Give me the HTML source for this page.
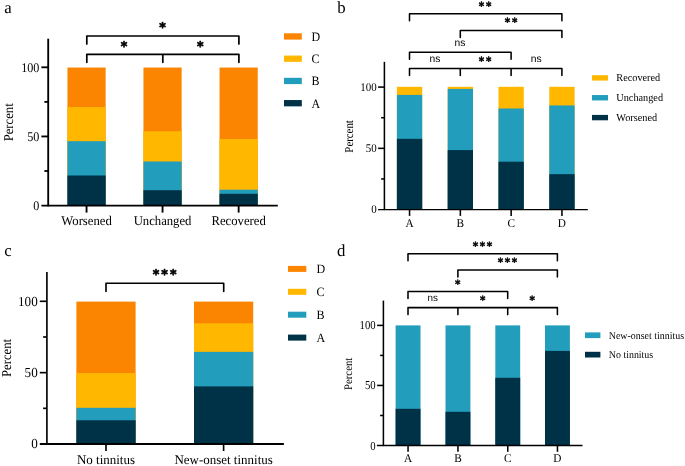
<!DOCTYPE html>
<html lang="en"><head><meta charset="utf-8"><title>Figure</title>
<style>
html,body{margin:0;padding:0;background:#fff}
svg{display:block}
text{text-rendering:geometricPrecision}
.s{font-family:"Liberation Serif","DejaVu Serif",serif;fill:#000;stroke:#000;stroke-width:0;paint-order:stroke}
.a{font-family:"Liberation Sans","DejaVu Sans",sans-serif;fill:#000}
.b{font-family:"DejaVu Sans","Liberation Sans",sans-serif;font-weight:bold;fill:#000;stroke:#000;stroke-linejoin:round}
</style></head><body>
<svg width="685" height="466" viewBox="0 0 685 466">
<defs><filter id="soft" x="0" y="0" width="685" height="466" filterUnits="userSpaceOnUse"><feGaussianBlur stdDeviation="0.45"/></filter><filter id="softt" x="0" y="0" width="685" height="466" filterUnits="userSpaceOnUse"><feGaussianBlur stdDeviation="0.3"/></filter></defs>
<rect width="685" height="466" fill="#fff"/>
<g filter="url(#soft)">
<rect x="67.45" y="67.55" width="38.2" height="138.05" fill="#FB8500"/>
<rect x="67.45" y="107.05" width="38.2" height="98.55" fill="#FFB703"/>
<rect x="67.45" y="141.2" width="38.2" height="64.4" fill="#219EBC"/>
<rect x="67.45" y="175.5" width="38.2" height="30.1" fill="#023047"/>
<rect x="143.45" y="67.55" width="38.2" height="138.05" fill="#FB8500"/>
<rect x="143.45" y="131.3" width="38.2" height="74.3" fill="#FFB703"/>
<rect x="143.45" y="161.5" width="38.2" height="44.1" fill="#219EBC"/>
<rect x="143.45" y="190.2" width="38.2" height="15.4" fill="#023047"/>
<rect x="219.55" y="67.55" width="38.2" height="138.05" fill="#FB8500"/>
<rect x="219.55" y="139" width="38.2" height="66.6" fill="#FFB703"/>
<rect x="219.55" y="189.7" width="38.2" height="15.9" fill="#219EBC"/>
<rect x="219.55" y="193.8" width="38.2" height="11.8" fill="#023047"/>
<line x1="48.2" y1="38.71" x2="48.2" y2="206.38" stroke="#000" stroke-width="1.85" stroke-linecap="butt"/>
<line x1="41.4" y1="205.6" x2="277.8" y2="205.6" stroke="#000" stroke-width="1.85" stroke-linecap="butt"/>
<line x1="44.4" y1="171.02" x2="48.2" y2="171.02" stroke="#000" stroke-width="1.85" stroke-linecap="butt"/>
<line x1="41.4" y1="136.45" x2="48.2" y2="136.45" stroke="#000" stroke-width="1.85" stroke-linecap="butt"/>
<line x1="44.4" y1="101.88" x2="48.2" y2="101.88" stroke="#000" stroke-width="1.85" stroke-linecap="butt"/>
<line x1="41.4" y1="67.3" x2="48.2" y2="67.3" stroke="#000" stroke-width="1.85" stroke-linecap="butt"/>
<line x1="86.55" y1="205.6" x2="86.55" y2="212.6" stroke="#000" stroke-width="1.85" stroke-linecap="butt"/>
<line x1="162.55" y1="205.6" x2="162.55" y2="212.6" stroke="#000" stroke-width="1.85" stroke-linecap="butt"/>
<line x1="238.65" y1="205.6" x2="238.65" y2="212.6" stroke="#000" stroke-width="1.85" stroke-linecap="butt"/>
<path d="M86.8 44V36H238.9V44" fill="none" stroke="#000" stroke-width="1.7" stroke-linecap="round" stroke-linejoin="round"/>
<path d="M86.8 62.3V54.3H238.9V62.3M162.8 54.3V62.3" fill="none" stroke="#000" stroke-width="1.7" stroke-linecap="round" stroke-linejoin="round"/>
<rect x="284" y="33.3" width="17.8" height="6.3" fill="#FB8500"/>
<rect x="284" y="55.55" width="17.8" height="6.3" fill="#FFB703"/>
<rect x="284" y="77.8" width="17.8" height="6.3" fill="#219EBC"/>
<rect x="284" y="100.05" width="17.8" height="6.3" fill="#023047"/>
<rect x="396.9" y="86.8" width="25.3" height="122.8" fill="#FFB703"/>
<rect x="396.9" y="94.93" width="25.3" height="114.67" fill="#219EBC"/>
<rect x="396.9" y="138.83" width="25.3" height="70.77" fill="#023047"/>
<rect x="447.7" y="86.8" width="25.3" height="122.8" fill="#FFB703"/>
<rect x="447.7" y="88.93" width="25.3" height="120.67" fill="#219EBC"/>
<rect x="447.7" y="150.08" width="25.3" height="59.52" fill="#023047"/>
<rect x="498.5" y="86.8" width="25.3" height="122.8" fill="#FFB703"/>
<rect x="498.5" y="108.5" width="25.3" height="101.1" fill="#219EBC"/>
<rect x="498.5" y="161.7" width="25.3" height="47.9" fill="#023047"/>
<rect x="549.3" y="86.8" width="25.3" height="122.8" fill="#FFB703"/>
<rect x="549.3" y="105.44" width="25.3" height="104.16" fill="#219EBC"/>
<rect x="549.3" y="174.18" width="25.3" height="35.42" fill="#023047"/>
<line x1="384.4" y1="61.82" x2="384.4" y2="210.12" stroke="#000" stroke-width="1.55" stroke-linecap="butt"/>
<line x1="378.1" y1="209.6" x2="587.8" y2="209.6" stroke="#000" stroke-width="1.35" stroke-linecap="butt"/>
<line x1="381.1" y1="178.97" x2="384.4" y2="178.97" stroke="#000" stroke-width="1.55" stroke-linecap="butt"/>
<line x1="378.1" y1="148.35" x2="384.4" y2="148.35" stroke="#000" stroke-width="1.55" stroke-linecap="butt"/>
<line x1="381.1" y1="117.72" x2="384.4" y2="117.72" stroke="#000" stroke-width="1.55" stroke-linecap="butt"/>
<line x1="378.1" y1="87.1" x2="384.4" y2="87.1" stroke="#000" stroke-width="1.55" stroke-linecap="butt"/>
<line x1="409.55" y1="209.6" x2="409.55" y2="215.9" stroke="#000" stroke-width="1.55" stroke-linecap="butt"/>
<line x1="460.35" y1="209.6" x2="460.35" y2="215.9" stroke="#000" stroke-width="1.55" stroke-linecap="butt"/>
<line x1="511.15" y1="209.6" x2="511.15" y2="215.9" stroke="#000" stroke-width="1.55" stroke-linecap="butt"/>
<line x1="561.95" y1="209.6" x2="561.95" y2="215.9" stroke="#000" stroke-width="1.55" stroke-linecap="butt"/>
<path d="M409.5 20.8V13.8H561.9V20.8" fill="none" stroke="#000" stroke-width="1.55" stroke-linecap="round" stroke-linejoin="round"/>
<path d="M460.3 37.4V30.4H561.9V37.4" fill="none" stroke="#000" stroke-width="1.55" stroke-linecap="round" stroke-linejoin="round"/>
<path d="M409.5 59.2V52.2H511.1V59.2" fill="none" stroke="#000" stroke-width="1.55" stroke-linecap="round" stroke-linejoin="round"/>
<path d="M409.5 75.5V68.5H561.9V75.5M460.3 68.5V75.5M511.1 68.5V75.5" fill="none" stroke="#000" stroke-width="1.55" stroke-linecap="round" stroke-linejoin="round"/>
<rect x="592" y="75.2" width="16" height="5.4" fill="#FFB703"/>
<rect x="592" y="95.05" width="16" height="5.4" fill="#219EBC"/>
<rect x="592" y="114.9" width="16" height="5.4" fill="#023047"/>
<rect x="76.4" y="301.6" width="59.2" height="142.4" fill="#FB8500"/>
<rect x="76.4" y="373.1" width="59.2" height="70.9" fill="#FFB703"/>
<rect x="76.4" y="407.8" width="59.2" height="36.2" fill="#219EBC"/>
<rect x="76.4" y="420.3" width="59.2" height="23.7" fill="#023047"/>
<rect x="194" y="301.6" width="59.2" height="142.4" fill="#FB8500"/>
<rect x="194" y="323.3" width="59.2" height="120.7" fill="#FFB703"/>
<rect x="194" y="351.85" width="59.2" height="92.15" fill="#219EBC"/>
<rect x="194" y="386.4" width="59.2" height="57.6" fill="#023047"/>
<line x1="46.9" y1="271.94" x2="46.9" y2="444.75" stroke="#000" stroke-width="1.65" stroke-linecap="butt"/>
<line x1="39.8" y1="444" x2="283.9" y2="444" stroke="#000" stroke-width="1.8" stroke-linecap="butt"/>
<line x1="43.1" y1="408.32" x2="46.9" y2="408.32" stroke="#000" stroke-width="1.65" stroke-linecap="butt"/>
<line x1="39.8" y1="372.65" x2="46.9" y2="372.65" stroke="#000" stroke-width="1.65" stroke-linecap="butt"/>
<line x1="43.1" y1="336.98" x2="46.9" y2="336.98" stroke="#000" stroke-width="1.65" stroke-linecap="butt"/>
<line x1="39.8" y1="301.3" x2="46.9" y2="301.3" stroke="#000" stroke-width="1.65" stroke-linecap="butt"/>
<line x1="106" y1="444" x2="106" y2="451" stroke="#000" stroke-width="1.65" stroke-linecap="butt"/>
<line x1="223.6" y1="444" x2="223.6" y2="451" stroke="#000" stroke-width="1.65" stroke-linecap="butt"/>
<path d="M106 291.5V283.2H223.7V291.5" fill="none" stroke="#000" stroke-width="1.65" stroke-linecap="round" stroke-linejoin="round"/>
<rect x="288" y="265.9" width="18.3" height="6" fill="#FB8500"/>
<rect x="288" y="288.8" width="18.3" height="6" fill="#FFB703"/>
<rect x="288" y="311.7" width="18.3" height="6" fill="#219EBC"/>
<rect x="288" y="334.6" width="18.3" height="6" fill="#023047"/>
<rect x="395.6" y="325.4" width="24.9" height="120.1" fill="#219EBC"/>
<rect x="395.6" y="408.8" width="24.9" height="36.7" fill="#023047"/>
<rect x="445.5" y="325.4" width="24.9" height="120.1" fill="#219EBC"/>
<rect x="445.5" y="411.8" width="24.9" height="33.7" fill="#023047"/>
<rect x="495.3" y="325.4" width="24.9" height="120.1" fill="#219EBC"/>
<rect x="495.3" y="377.8" width="24.9" height="67.7" fill="#023047"/>
<rect x="545" y="325.4" width="24.9" height="120.1" fill="#219EBC"/>
<rect x="545" y="350.9" width="24.9" height="94.6" fill="#023047"/>
<line x1="383.4" y1="300.61" x2="383.4" y2="446.08" stroke="#000" stroke-width="1.55" stroke-linecap="butt"/>
<line x1="376.9" y1="445.5" x2="582.5" y2="445.5" stroke="#000" stroke-width="1.45" stroke-linecap="butt"/>
<line x1="380.1" y1="415.48" x2="383.4" y2="415.48" stroke="#000" stroke-width="1.55" stroke-linecap="butt"/>
<line x1="377.1" y1="385.45" x2="383.4" y2="385.45" stroke="#000" stroke-width="1.55" stroke-linecap="butt"/>
<line x1="380.1" y1="355.42" x2="383.4" y2="355.42" stroke="#000" stroke-width="1.55" stroke-linecap="butt"/>
<line x1="377.1" y1="325.4" x2="383.4" y2="325.4" stroke="#000" stroke-width="1.55" stroke-linecap="butt"/>
<line x1="408.05" y1="445.5" x2="408.05" y2="451.8" stroke="#000" stroke-width="1.55" stroke-linecap="butt"/>
<line x1="457.95" y1="445.5" x2="457.95" y2="451.8" stroke="#000" stroke-width="1.55" stroke-linecap="butt"/>
<line x1="507.75" y1="445.5" x2="507.75" y2="451.8" stroke="#000" stroke-width="1.55" stroke-linecap="butt"/>
<line x1="557.45" y1="445.5" x2="557.45" y2="451.8" stroke="#000" stroke-width="1.55" stroke-linecap="butt"/>
<path d="M408 260.8V253.8H557.4V260.8" fill="none" stroke="#000" stroke-width="1.55" stroke-linecap="round" stroke-linejoin="round"/>
<path d="M457.9 276.9V269.9H557.4V276.9" fill="none" stroke="#000" stroke-width="1.55" stroke-linecap="round" stroke-linejoin="round"/>
<path d="M408 298.5V291.5H507.7V298.5" fill="none" stroke="#000" stroke-width="1.55" stroke-linecap="round" stroke-linejoin="round"/>
<path d="M408 314.6V307.6H557.4V314.6M457.9 307.6V314.6M507.7 307.6V314.6" fill="none" stroke="#000" stroke-width="1.55" stroke-linecap="round" stroke-linejoin="round"/>
<rect x="585" y="332.4" width="15.4" height="5.7" fill="#219EBC"/>
<rect x="585" y="351.8" width="15.4" height="5.7" fill="#023047"/>
</g>
<g filter="url(#softt)">
<text transform="translate(39.4 209.8) scale(0.92 1)" font-size="13.2" text-anchor="end" stroke-width="0.15" class="s">0</text>
<text transform="translate(39.4 140.65) scale(0.92 1)" font-size="13.2" text-anchor="end" stroke-width="0.15" class="s">50</text>
<text transform="translate(39.4 71.5) scale(0.92 1)" font-size="13.2" text-anchor="end" stroke-width="0.15" class="s">100</text>
<text transform="translate(86.55 225.3) scale(0.955 1)" font-size="13.3" text-anchor="middle" stroke-width="0.15" class="s">Worsened</text>
<text transform="translate(162.55 225.3) scale(0.955 1)" font-size="13.3" text-anchor="middle" stroke-width="0.15" class="s">Unchanged</text>
<text transform="translate(238.65 225.3) scale(0.955 1)" font-size="13.3" text-anchor="middle" stroke-width="0.15" class="s">Recovered</text>
<text transform="translate(13 122.3) rotate(-90) scale(1 1.07)" font-size="12.7" text-anchor="middle" stroke-width="0.15" class="s">Percent</text>
<text transform="translate(159.32 32.48) scale(0.93 1)" font-size="13.5" stroke-width="0.7" class="b">*</text>
<text transform="translate(120.82 50.68) scale(0.93 1)" font-size="13.5" stroke-width="0.7" class="b">*</text>
<text transform="translate(196.92 50.68) scale(0.93 1)" font-size="13.5" stroke-width="0.7" class="b">*</text>
<text transform="translate(311.5 40.75) scale(0.93 1)" font-size="12.9" text-anchor="start" stroke-width="0.15" class="s">D</text>
<text transform="translate(311.5 63) scale(0.93 1)" font-size="12.9" text-anchor="start" stroke-width="0.15" class="s">C</text>
<text transform="translate(311.5 85.25) scale(0.93 1)" font-size="12.9" text-anchor="start" stroke-width="0.15" class="s">B</text>
<text transform="translate(311.5 107.5) scale(0.93 1)" font-size="12.9" text-anchor="start" stroke-width="0.15" class="s">A</text>
<text x="4.2" y="12.9" font-size="16.8" text-anchor="start" stroke-width="0.3" class="s">a</text>
<text transform="translate(376.8 213.1) scale(0.93 1)" font-size="11.8" text-anchor="end" stroke-width="0.08" class="s">0</text>
<text transform="translate(376.8 151.85) scale(0.93 1)" font-size="11.8" text-anchor="end" stroke-width="0.08" class="s">50</text>
<text transform="translate(376.8 90.6) scale(0.93 1)" font-size="11.8" text-anchor="end" stroke-width="0.08" class="s">100</text>
<text transform="translate(409.55 226.85) scale(0.95 1)" font-size="11.9" text-anchor="middle" stroke-width="0.08" class="s">A</text>
<text transform="translate(460.35 226.85) scale(0.95 1)" font-size="11.9" text-anchor="middle" stroke-width="0.08" class="s">B</text>
<text transform="translate(511.15 226.85) scale(0.95 1)" font-size="11.9" text-anchor="middle" stroke-width="0.08" class="s">C</text>
<text transform="translate(561.95 226.85) scale(0.95 1)" font-size="11.9" text-anchor="middle" stroke-width="0.08" class="s">D</text>
<text transform="translate(353 136.4) rotate(-90) scale(1 1.12)" font-size="10.85" text-anchor="middle" stroke-width="0.08" class="s">Percent</text>
<text transform="translate(478.75 10.06) scale(0.914 1)" font-size="11.3" letter-spacing="2.08" stroke-width="0.5" class="b">**</text>
<text transform="translate(504.65 26.21) scale(0.914 1)" font-size="11.3" letter-spacing="2.08" stroke-width="0.5" class="b">**</text>
<text x="460" y="46" font-size="10.3" text-anchor="middle" class="a">ns</text>
<text x="434.9" y="62.2" font-size="10.3" text-anchor="middle" class="a">ns</text>
<text transform="translate(478.65 64.86) scale(0.914 1)" font-size="11.3" letter-spacing="2.08" stroke-width="0.5" class="b">**</text>
<text x="536.2" y="62" font-size="10.3" text-anchor="middle" class="a">ns</text>
<text transform="translate(616.3 81) scale(0.96 1)" font-size="10.7" text-anchor="start" stroke-width="0.08" class="s">Recovered</text>
<text transform="translate(616.3 100.85) scale(0.96 1)" font-size="10.7" text-anchor="start" stroke-width="0.08" class="s">Unchanged</text>
<text transform="translate(616.3 120.7) scale(0.96 1)" font-size="10.7" text-anchor="start" stroke-width="0.08" class="s">Worsened</text>
<text x="337.2" y="12.8" font-size="16.8" text-anchor="start" stroke-width="0.3" class="s">b</text>
<text transform="translate(37.7 448.2) scale(0.95 1)" font-size="13.8" text-anchor="end" stroke-width="0.15" class="s">0</text>
<text transform="translate(37.7 376.85) scale(0.95 1)" font-size="13.8" text-anchor="end" stroke-width="0.15" class="s">50</text>
<text transform="translate(37.7 305.5) scale(0.95 1)" font-size="13.8" text-anchor="end" stroke-width="0.15" class="s">100</text>
<text transform="translate(106 464) scale(0.975 1)" font-size="13.3" text-anchor="middle" stroke-width="0.15" class="s">No tinnitus</text>
<text transform="translate(223.6 464) scale(0.975 1)" font-size="13.3" text-anchor="middle" stroke-width="0.15" class="s">New-onset tinnitus</text>
<text transform="translate(10.5 358) rotate(-90) scale(1 1.07)" font-size="12.7" text-anchor="middle" stroke-width="0.15" class="s">Percent</text>
<text transform="translate(152.72 279.24) scale(0.93 1)" font-size="13.5" letter-spacing="2.19" stroke-width="0.7" class="b">***</text>
<text transform="translate(316.6 273.3) scale(0.95 1)" font-size="12.7" text-anchor="start" stroke-width="0.15" class="s">D</text>
<text transform="translate(316.6 296.2) scale(0.95 1)" font-size="12.7" text-anchor="start" stroke-width="0.15" class="s">C</text>
<text transform="translate(316.6 319.1) scale(0.95 1)" font-size="12.7" text-anchor="start" stroke-width="0.15" class="s">B</text>
<text transform="translate(316.6 342) scale(0.95 1)" font-size="12.7" text-anchor="start" stroke-width="0.15" class="s">A</text>
<text x="4.2" y="255.5" font-size="16.8" text-anchor="start" stroke-width="0.3" class="s">c</text>
<text transform="translate(375.7 449.6) scale(0.88 1)" font-size="12.2" text-anchor="end" stroke-width="0.08" class="s">0</text>
<text transform="translate(375.7 389.05) scale(0.88 1)" font-size="12.2" text-anchor="end" stroke-width="0.08" class="s">50</text>
<text transform="translate(375.7 329.2) scale(0.88 1)" font-size="12.2" text-anchor="end" stroke-width="0.08" class="s">100</text>
<text transform="translate(408.05 462.2) scale(0.95 1)" font-size="11.9" text-anchor="middle" stroke-width="0.08" class="s">A</text>
<text transform="translate(457.95 462.2) scale(0.95 1)" font-size="11.9" text-anchor="middle" stroke-width="0.08" class="s">B</text>
<text transform="translate(507.75 462.2) scale(0.95 1)" font-size="11.9" text-anchor="middle" stroke-width="0.08" class="s">C</text>
<text transform="translate(557.45 462.2) scale(0.95 1)" font-size="11.9" text-anchor="middle" stroke-width="0.08" class="s">D</text>
<text transform="translate(352.3 373.85) rotate(-90) scale(1 1.07)" font-size="10.75" text-anchor="middle" stroke-width="0.08" class="s">Percent</text>
<text transform="translate(472.7 250.46) scale(0.914 1)" font-size="11.3" letter-spacing="1.75" stroke-width="0.45" class="b">***</text>
<text transform="translate(497.7 266.06) scale(0.914 1)" font-size="11.3" letter-spacing="1.75" stroke-width="0.45" class="b">***</text>
<text transform="translate(454.9 288.06) scale(0.914 1)" font-size="11.3" stroke-width="0.45" class="b">*</text>
<text x="432.8" y="300.7" font-size="9.9" text-anchor="middle" class="a">ns</text>
<text transform="translate(479.9 303.66) scale(0.914 1)" font-size="11.3" stroke-width="0.45" class="b">*</text>
<text transform="translate(529.5 303.66) scale(0.914 1)" font-size="11.3" stroke-width="0.45" class="b">*</text>
<text transform="translate(608.8 338.85) scale(0.945 1)" font-size="10.5" text-anchor="start" stroke-width="0.08" class="s">New-onset tinnitus</text>
<text transform="translate(608.8 358.25) scale(0.945 1)" font-size="10.5" text-anchor="start" stroke-width="0.08" class="s">No tinnitus</text>
<text x="337" y="255.85" font-size="16.8" text-anchor="start" stroke-width="0.3" class="s">d</text>
</g>
</svg>
</body></html>
